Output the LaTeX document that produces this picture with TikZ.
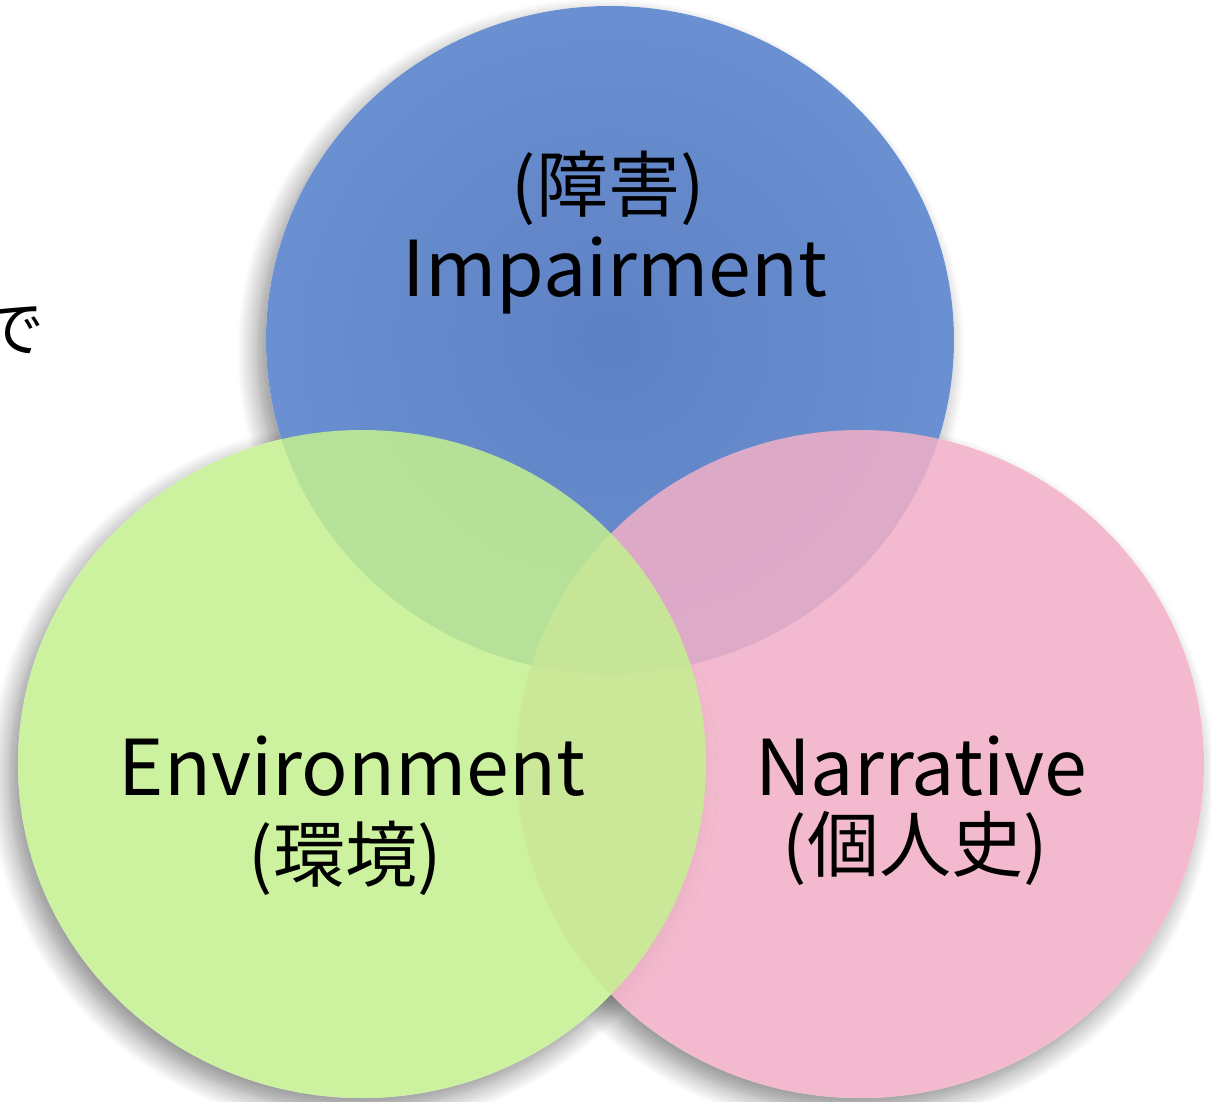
\documentclass[tikz,border=0pt]{standalone}
\usepackage{fontspec}
\setmainfont{Noto Sans CJK JP}
\usetikzlibrary{shapes.geometric,shadows.blur}
\definecolor{bluein}{RGB}{94,129,195}
\definecolor{blueout}{RGB}{106,144,209}
\definecolor{greenc}{RGB}{196,240,143}
\definecolor{pinkc}{RGB}{242,175,199}
\tikzset{
  circ/.style={ellipse, minimum width=688pt, minimum height=668pt, inner sep=0pt, outer sep=0pt},
  shad/.style={circ, fill=white, blur shadow={shadow xshift=-9pt, shadow yshift=-12pt, shadow blur radius=20pt, shadow blur steps=12, shadow opacity=45}},
  lbl/.style={font=\fontsize{72}{80}\selectfont, text=black, inner sep=0pt},
  lat/.style={lbl, anchor=base, font=\fontsize{77}{80}\selectfont},
}
\begin{document}
\begin{tikzpicture}[x=1pt,y=-1pt]
\useasboundingbox (0,0) rectangle (1211,1102);
% shadows
\node[shad] (sb) at (610,340) {};
\node[shad] (sp) at (860,764) {};
\node[shad] (sg) at (362,764) {};
% colored circles
\node[circ, shading=radial, inner color=bluein, outer color=blueout] (blue) at (610,340) {};
\node[circ, fill=pinkc, fill opacity=0.85] (pink) at (860,764) {};
\node[circ, fill=greenc, fill opacity=0.85] (green) at (362,764) {};
% labels
\node[lbl] (t1) at (608,188) {(障害)};
\node[lat] (t2) at (615,297) {Impairment};
\node[lat] (t3) at (352,795) {Environment};
\node[lbl] (t4) at (345,858) {(環境)};
\node[lat] (t5) at (921,795) {Narrative};
\node[lbl] (t6) at (915,848) {(個人史)};
\node[lbl, font=\fontsize{62}{64}\selectfont] (t7) at (14,330) {で};
\end{tikzpicture}
\end{document}
